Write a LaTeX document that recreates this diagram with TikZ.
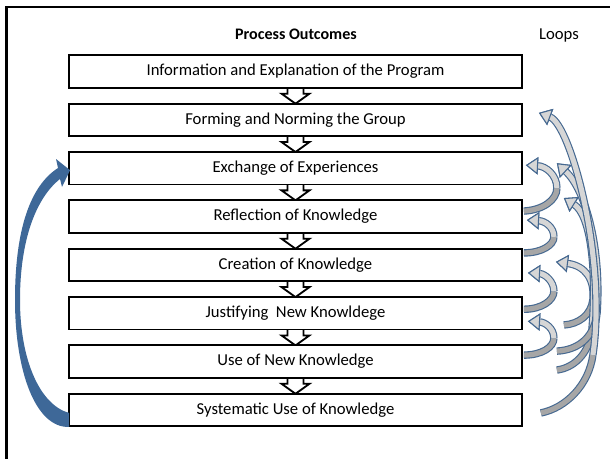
\documentclass[tikz,border=0pt]{standalone}
\usepackage{fontspec}
\setmainfont{Carlito}
\usetikzlibrary{arrows.meta,calc}
\pgfdeclarelayer{background}
\pgfsetlayers{background,main}

\definecolor{loopedge}{RGB}{70,105,145}
\definecolor{looplight}{RGB}{214,214,214}
\definecolor{loopdark}{RGB}{166,166,166}
\definecolor{backblue}{RGB}{62,104,152}

\tikzset{
  stage/.style={draw=black, line width=1.2pt, fill=white,
    minimum width=298.98pt, minimum height=21.45pt, inner sep=0pt,
    font=\fontsize{11}{13}\selectfont},
  label/.style={inner sep=0pt, font=\fontsize{11}{13}\selectfont},
  flowarrow/.style={draw=black, line width=1.2pt, fill=white, line join=miter},
  bandlight/.style={draw=looplight, line width=3.4pt,
    preaction={draw=loopedge, line width=4.9pt}},
  banddark/.style={draw=loopdark, line width=3.4pt,
    preaction={draw=loopedge, line width=4.9pt}},
  loophead/.style={-{Triangle[length=8pt, width=11.5pt, line width=0.7pt,
    color=loopedge, fill=looplight]}},
}

% hollow block arrow from one stage down to the next
\newcommand\stagearrow[2]{%
  \draw[flowarrow] ($(#1.south)+(-8,-3)$) -- ($(#1.south)+(-8,5)$)
    -- ($(#1.south)+(-14,5)$) -- ($(#2.north)+(0,1)$)
    -- ($(#1.south)+(14,5)$) -- ($(#1.south)+(8,5)$)
    -- ($(#1.south)+(8,-3)$);}

% two-tone loop: dark underside from the tail to the turn, light face to the head
\newcommand\loopband[7]{%
  \draw[banddark] (#1) .. controls +#2 and +#3 .. (#4);
  \draw[bandlight, loophead] (#4) .. controls +#5 and +#6 .. (#7);}

\begin{document}
\begin{tikzpicture}[x=0.66pt, y=-0.66pt]
\useasboundingbox (0,0) rectangle (610,459);

% outer frame
\draw[line width=1.5pt] (6.5,459) -- (6.5,7) -- (610,7);

% headings
\node[label, font=\fontsize{10.6}{12}\selectfont\bfseries] (title) at (296,34) {Process Outcomes};
\node[label] (loops) at (559,35) {Loops};

% stages
\node[stage] (b1) at (295.5,71.5)  {Information and Explanation of the Program};
\node[stage] (b2) at (295.5,119.85) {Forming and Norming the Group};
\node[stage] (b3) at (295.5,168.2)  {Exchange of Experiences};
\node[stage] (b4) at (295.5,216.55) {Reflection of Knowledge};
\node[stage] (b5) at (295.5,264.9)  {Creation of Knowledge};
\node[stage] (b6) at (295.5,313.25) {Justifying~ New Knowldege};
\node[stage] (b7) at (295.5,361.6)  {Use of New Knowledge};
\node[stage] (b8) at (295.5,409.95) {Systematic Use of Knowledge};

% downward flow between stages
\begin{pgfonlayer}{background}
  \stagearrow{b1}{b2}
  \stagearrow{b2}{b3}
  \stagearrow{b3}{b4}
  \stagearrow{b4}{b5}
  \stagearrow{b5}{b6}
  \stagearrow{b6}{b7}
  \stagearrow{b7}{b8}
\end{pgfonlayer}

% large blue return arrow on the left
\coordinate (bt1) at ($(b8.west)+(1,17)$);
\coordinate (bt2) at ($(b8.west)+(1,3)$);
\coordinate (btip) at ($(b3.west)+(2,2)$);
\fill[backblue] (bt1) .. controls (35,428) and (15,370) .. (15,300)
  .. controls (15,230) and (30,186) .. (58,168)
  -- (56,159) -- (btip) -- (62,187) -- (60,179)
  .. controls (36,198) and (20,240) .. (20,300)
  .. controls (20,360) and (40,405) .. (bt2) -- cycle;

% short loops between neighbouring stages
\coordinate (ta) at ($(b4.east)+(1,-5.5)$);
\coordinate (ma) at ($(b4.east)+(34,-28.5)$);
\coordinate (ha) at ($(b3.east)+(3,-3)$);
\loopband{ta}{(19,-1)}{(0,12)}{ma}{(0,-13)}{(20,1)}{ha}

\coordinate (tb) at ($(b5.east)+(1,-12)$);
\coordinate (mb) at ($(b5.east)+(31,-28)$);
\coordinate (hb) at ($(b4.east)+(4,3.5)$);
\loopband{tb}{(18,0)}{(0,8)}{mb}{(0,-10)}{(18,1)}{hb}

\coordinate (tc) at ($(b6.east)+(1,-4)$);
\coordinate (mc) at ($(b6.east)+(31,-22)$);
\coordinate (hc) at ($(b5.east)+(5,8)$);
\loopband{tc}{(18,0)}{(0,9)}{mc}{(0,-10)}{(17,1)}{hc}

\coordinate (td) at ($(b7.east)+(1,-6.5)$);
\coordinate (md) at ($(b7.east)+(31,-23.5)$);
\coordinate (hd) at ($(b6.east)+(5,8)$);
\loopband{td}{(18,0)}{(0,9)}{md}{(0,-10)}{(17,1)}{hd}

% long loops further out
\coordinate (tg) at ($(b6.east)+(41,11.75)$);
\coordinate (mg) at ($(b6.east)+(70,-13.25)$);
\coordinate (hg) at ($(b5.east)+(33,-3)$);
\loopband{tg}{(15,-1)}{(-2,15)}{mg}{(2,-20)}{(30,4)}{hg}

\coordinate (tf) at ($(b7.east)+(34,8.4)$);
\coordinate (mf) at ($(b7.east)+(69,-31.6)$);
\coordinate (hf) at ($(b4.east)+(41,-18.5)$);
\loopband{tf}{(16,-2)}{(-3,25)}{mf}{(5,-60)}{(27,17)}{hf}

\coordinate (te) at ($(b7.east)+(34,-10.5)$);
\coordinate (me) at ($(b7.east)+(74,-46.6)$);
\coordinate (he) at ($(b3.east)+(34,-5)$);
\loopband{te}{(19,-1)}{(-4,25)}{me}{(5,-65)}{(29,27)}{he}

\coordinate (th) at ($(b8.east)+(18,3)$);
\coordinate (mh) at ($(b8.east)+(70,-55)$);
\coordinate (hh) at ($(b2.east)+(16,-7)$);
\loopband{th}{(25,-5)}{(-4,30)}{mh}{(14,-95)}{(32,12)}{hh}

\end{tikzpicture}
\end{document}
